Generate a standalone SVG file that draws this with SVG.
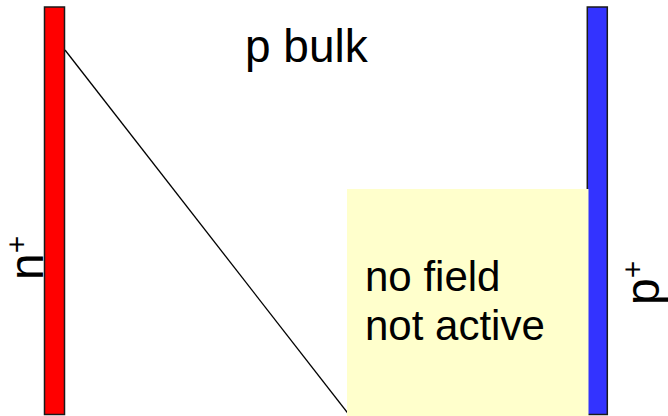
<svg xmlns="http://www.w3.org/2000/svg" width="668" height="416" viewBox="0 0 668 416">
<style>
.t{font-family:"Liberation Sans",Arial,sans-serif;fill:#000}
.bar{stroke:#1a1a1a;stroke-width:1.5}
</style>
<rect width="668" height="416" fill="#fff"/>
<g id="connectors">
<line x1="65" y1="50" x2="350" y2="416" stroke="#000" stroke-width="1.3"/>
</g>
<g id="n-contact">
<rect class="bar" x="44.5" y="7" width="20" height="407.5" fill="#ff0000"/>
<text class="t" font-size="48" transform="translate(43,280) rotate(-90)">n<tspan font-size="30" dy="-16">+</tspan></text>
</g>
<g id="p-contact">
<rect class="bar" x="587.3" y="7" width="20" height="407.5" fill="#3333ff"/>
<text class="t" font-size="48" transform="translate(659,305) rotate(-90)">p<tspan font-size="30" dy="-16">+</tspan></text>
</g>
<g id="bulk">
<text class="t" x="245" y="62" font-size="46">p bulk</text>
</g>
<g id="no-field">
<rect x="347" y="189" width="241.5" height="230" fill="#ffffcc"/>
<text class="t" x="365" y="291" font-size="42">no field</text>
<text class="t" x="365" y="340" font-size="42">not active</text>
</g>
</svg>
